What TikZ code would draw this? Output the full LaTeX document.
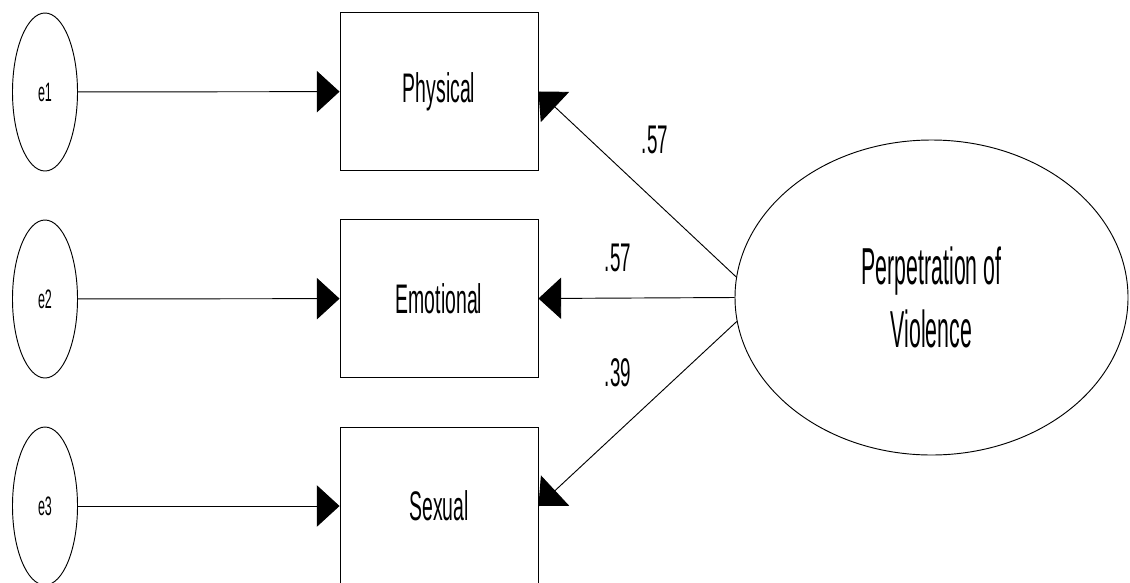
\documentclass[tikz,border=0pt]{standalone}
\usepackage{fontspec}
\setmainfont[FakeStretch=0.47]{Liberation Sans}
\newfontfamily\pvfont[FakeStretch=0.41]{Liberation Sans}
\usetikzlibrary{shapes.geometric,arrows.meta}

\begin{document}
\begin{tikzpicture}[x=.75pt,y=-.75pt,line width=.7pt,
  indbox/.style={draw,rectangle,minimum width=148.5pt,minimum height=118.5pt,inner sep=0pt,font=\fontsize{31}{37}\selectfont},
  errell/.style={draw,ellipse,minimum width=48.75pt,minimum height=118.5pt,inner sep=0pt,font=\fontsize{20}{24}\selectfont},
  latent/.style={draw,ellipse,minimum width=294.75pt,minimum height=236.25pt,inner sep=0pt,align=center,font=\pvfont\fontsize{39}{47}\selectfont},
  wt/.style={inner sep=0pt,font=\fontsize{30}{36}\selectfont},
  lnk/.style={-{Triangle[length=17pt,width=31pt]}}]
\useasboundingbox (0,0) rectangle (1130,582);
% error terms
\node[errell] (e1) at (45,92) {e1};
\node[errell] (e2) at (45,299) {e2};
\node[errell] (e3) at (45,506) {e3};
% observed
\node[indbox] (phys) at (439,91.5) {Physical};
\node[indbox] (emot) at (439,298.5) {Emotional};
\node[indbox] (sex) at (439,506) {Sexual};
% latent
\node[latent] (pv) at (931.5,297.5) {Perpetration of\\Violence};
% loadings
\node[wt] (w1) at (655,140) {.57};
\node[wt] (w2) at (618,258) {.57};
\node[wt] (w3) at (618,373) {.39};
\draw[lnk] (e1) -- (phys);
\draw[lnk] (e2) -- (emot);
\draw[lnk] (e3) -- (sex);
\draw[lnk] (pv.174) -- (phys.east);
\draw[lnk] (pv.west) -- (emot.east);
\draw[lnk] (pv.187) -- (sex.east);
\end{tikzpicture}
\end{document}
